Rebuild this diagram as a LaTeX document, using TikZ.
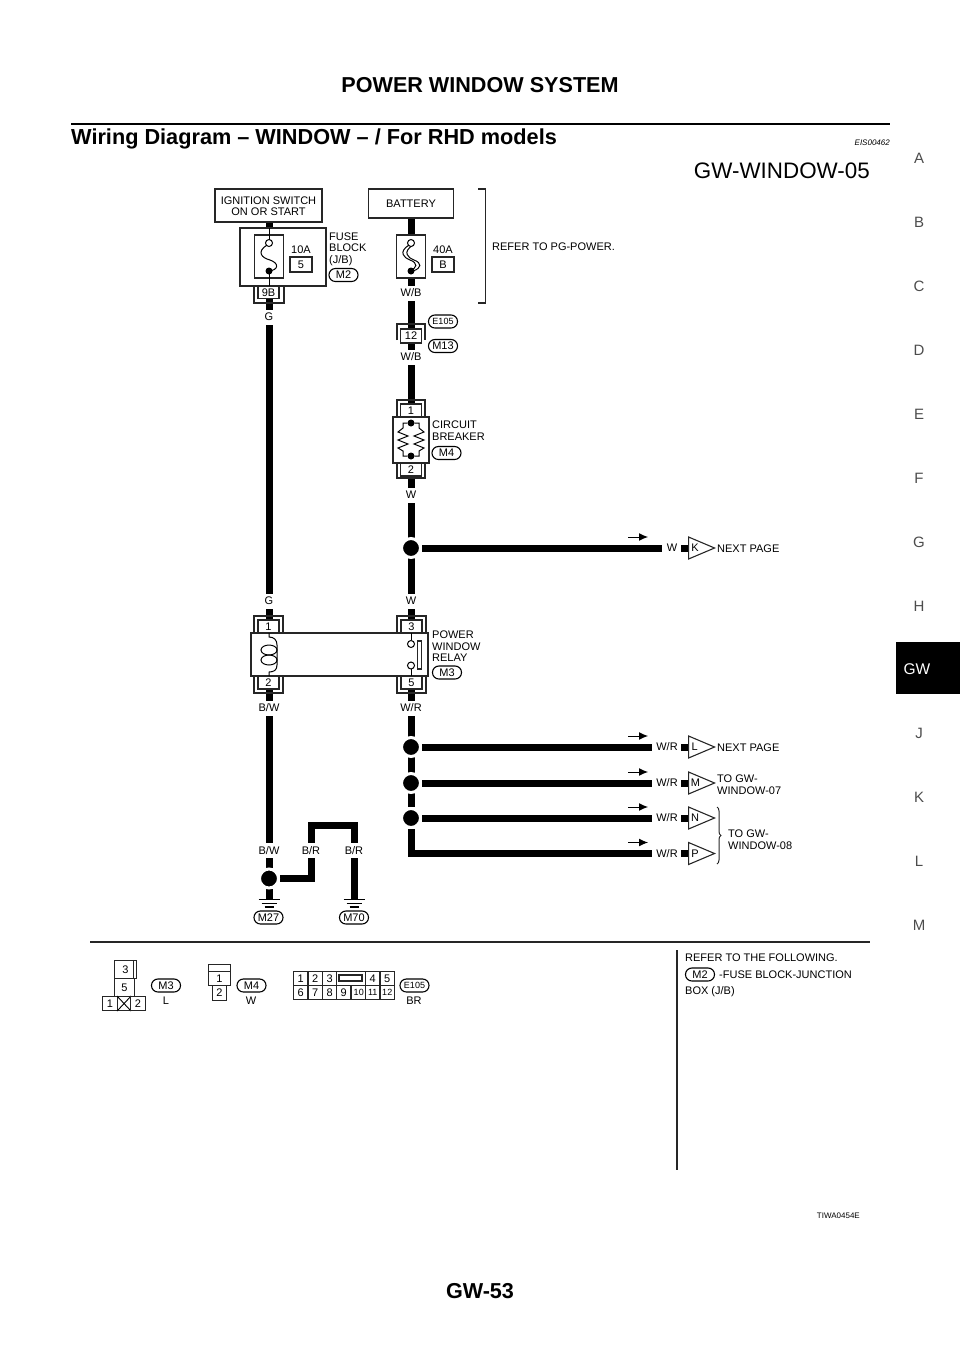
\documentclass[tikz,border=0pt]{standalone}
\usepackage{fontspec}
\setmainfont{Liberation Sans}
\usetikzlibrary{arrows.meta,positioning,backgrounds,shapes.geometric,decorations.pathreplacing}

\begin{document}
\begin{tikzpicture}[
    x=1pt, y=-1pt,
    >={Latex[length=9pt,width=8pt]},
    font=\fontsize{11}{11.5}\selectfont,
    wire/.style={
		line width=7pt,
		draw=black
	},
	thin line/.style={
		line width=1.1pt,
		draw=black!85
	},
	box/.style={
		rectangle,
		draw=black!85,
		line width=1.1pt,
		fill=white,
		inner sep=0pt,
		text centered
	},
	pin/.style={
		box,
		minimum width=21pt,
		minimum height=13pt
	},
	conn/.style={
		rectangle,
		rounded corners=6.4pt,
		draw=black,
		line width=1.1pt,
		fill=white,
		inner sep=0pt,
		minimum width=29pt,
		minimum height=13pt
	},
	wirelabel/.style={
		fill=white,
		inner sep=1pt,
		minimum height=15pt
	},
	desc/.style={
		align=left,
		inner sep=0pt,
		anchor=north west
	},
	dot/.style={
		circle,
		fill=black,
		draw=white,
		line width=3pt,
		inner sep=0pt,
		minimum size=19pt
	},
	smalldot/.style={
		circle,
		fill=black,
		inner sep=0pt,
		minimum size=7pt
	},
	opendot/.style={
		circle,
		draw=black,
		line width=1pt,
		fill=white,
		inner sep=0pt,
		minimum size=7pt
	},
	offpage/.style={
		isosceles triangle,
		isosceles triangle stretches,
		shape border rotate=0,
		draw=black!85,
		line width=1.1pt,
		fill=white,
		inner sep=0pt,
		minimum width=22pt,
		minimum height=26pt,
		anchor=lower side
	},
	cell/.style={
		box,
		minimum width=14.4pt,
		minimum height=14pt,
		anchor=north west
	},
	gnd/.style={
		line width=1.2pt
	}
  ]
    % page frame and heading
  \useasboundingbox (0,0) rectangle (960,1358);
  \node [font=\bfseries\fontsize{21.6}{22}\selectfont] (title) at (480,85) {POWER WINDOW SYSTEM};
  \draw [line width=2.5pt] (71,124) -- (890,124);
  \node [font=\bfseries\fontsize{21.7}{22}\selectfont, anchor=west, inner sep=0pt] (subtitle) at (71,139) {Wiring Diagram -- WINDOW -- / For RHD models};
  \node [font=\itshape\fontsize{8}{8}\selectfont, anchor=east, inner sep=0pt] (code) at (890,143) {EIS00462};
  \node [font=\fontsize{22.4}{23}\selectfont, anchor=east, inner sep=0pt] (sheet) at (870,171) {GW-WINDOW-05};

    % side tabs
  \foreach \lt/\ty in {A/158,B/222,C/286,D/350,E/414,F/478,G/542,H/606,J/733,K/797,L/861,M/925}
    \node [font=\fontsize{15}{15}\selectfont, text=black!70] (tab\lt) at (919,\ty) {\lt};
  \fill [black] (896,642) rectangle (960,694);
  \node [font=\fontsize{15.5}{15}\selectfont, text=white] (tabGW) at (917,669) {GW};

    % top boxes
  \node [box, minimum width=107pt, minimum height=33pt, align=center] (ignition) at (268.5,205.5) {\rule{0pt}{9pt}IGNITION SWITCH\\ON OR START};
  \node [box, minimum width=85pt, minimum height=29pt] (battery) at (411,203.5) {BATTERY};
  \draw [thin line] (478,189) -- (485.5,189) -- (485.5,303) -- (478,303);
  \node [desc] (pgpower) at (492,243) {REFER TO PG-POWER.};

    % fuse block
  \node [box, minimum width=86pt, minimum height=58pt] (fuseblock) at (283,257) {};
  \node [box, minimum width=29pt, minimum height=43pt] (fuse1) at (269,256.5) {};
  \draw [line width=1pt] (269,228) -- (269,240);
  \draw [line width=1pt] (267,245) .. controls (256,252) and (262,258) .. (270,260) .. controls (279,263) and (279,270) .. (269,271);
  \node [opendot] at (269,243) {};
  \node [smalldot] at (269,271) {};
  \draw [line width=1pt] (269,271) -- (269,286);
  \node [inner sep=0pt] (amp1) at (301,250) {10A};
  \node [box, minimum width=22pt, minimum height=15pt] (fuse1no) at (301,264.5) {5};
  \node [desc] (fuselabel) at (329,232.5) {FUSE\\BLOCK\\(J/B)};
  \node [conn] (m2) at (343.5,275) {M2};
  \draw [thin line] (254,286) -- (254,303) -- (284,303) -- (284,286);
  \node [pin, minimum height=12pt] (pin9b) at (268.5,292.5) {9B};
  \node [wirelabel] (wG1) at (269,317) {G};

    % battery fuse
  \node [box, minimum width=29pt, minimum height=43pt] (fuse2) at (411,256.5) {};
  \draw [line width=1pt] (409,245) .. controls (398,252) and (404,258) .. (410,260) .. controls (418,263) and (418,268) .. (409,271);
  \draw [line width=1pt] (413,245) .. controls (402,252) and (408,258) .. (414,260) .. controls (422,263) and (422,268) .. (413,271);
  \node [opendot] at (411,243) {};
  \node [smalldot] at (411,271) {};
  \node [inner sep=0pt] (amp2) at (443,250) {40A};
  \node [box, minimum width=22pt, minimum height=15pt] (fuse2no) at (443,264.5) {B};
  \node [wirelabel] (wWB1) at (411,293) {W/B};

    % joint connector
  \node [conn, font=\fontsize{9}{9}\selectfont] (e105) at (443,321.5) {E105};
  \draw [thin line] (397,340) -- (397,324) -- (425,324) -- (425,340);
  \node [pin, minimum height=14pt] (pin12) at (411,336) {12};
  \node [conn] (m13) at (443,346) {M13};
  \node [wirelabel] (wWB2) at (411,357) {W/B};

    % circuit breaker
  \draw [thin line] (397,417) -- (397,400) -- (425,400) -- (425,417);
  \draw [thin line] (397,463) -- (397,478) -- (425,478) -- (425,463);
  \node [pin] (pin1cb) at (411,410.5) {1};
  \node [box, minimum width=36pt, minimum height=46pt] (breaker) at (411,440) {};
  \node [pin] (pin2cb) at (411,469.5) {2};
  \node [smalldot] (cbtop) at (411,423) {};
  \node [smalldot] (cbbot) at (411,456) {};
  \draw [line width=1pt] (cbtop) -- (403,423) -- (403,428) -- (398,432) -- (408,436) -- (398,440) -- (408,444) -- (398,448) -- (403,451) -- (403,456) -- (cbbot);
  \draw [line width=1pt] (cbtop) -- (419,423) -- (419,428) -- (424,432) -- (414,436) -- (424,440) -- (414,444) -- (424,448) -- (419,451) -- (419,456) -- (cbbot);
  \node [desc] (cblabel) at (432,421) {CIRCUIT\\BREAKER};
  \node [conn] (m4) at (446.5,453) {M4};
  \node [wirelabel] (wW1) at (411,495) {W};

    % W branch
  \node [dot] (j1) at (411,548) {};
  \node [wirelabel] (wW2) at (672,548) {W};
  \node [wirelabel] (wG2) at (269,601) {G};
  \node [wirelabel] (wW3) at (411,601) {W};

    % power window relay
  \draw [thin line] (254,633) -- (254,616) -- (283,616) -- (283,633);
  \draw [thin line] (397,633) -- (397,616) -- (426,616) -- (426,633);
  \draw [thin line] (254,676) -- (254,693) -- (283,693) -- (283,676);
  \draw [thin line] (397,676) -- (397,693) -- (426,693) -- (426,676);
  \node [pin] (r1) at (268.5,626.5) {1};
  \node [pin] (r3) at (411.5,626.5) {3};
  \node [pin] (r2) at (268.5,682.5) {2};
  \node [pin] (r5) at (411.5,682.5) {5};
  \node [box, minimum width=177pt, minimum height=43pt] (relay) at (339.5,654.5) {};
  \draw [line width=1pt] (269,633) -- (269,637) .. controls (274,637) and (277,640) .. (277,645) -- (277,665) .. controls (277,670) and (274,672) .. (269,672) -- (269,676);
  \draw [line width=1pt] (269,650) ellipse [x radius=8, y radius=5];
  \draw [line width=1pt] (269,660) ellipse [x radius=8, y radius=5];
  \draw [line width=1pt] (411,633) -- (411,640);
  \draw [line width=1pt] (411,669) -- (411,676);
  \node [opendot] (c3) at (411,644) {};
  \node [opendot] (c5) at (411,665.5) {};
  \node [box, minimum width=4.5pt, minimum height=28pt] (blade) at (419.5,655) {};
  \node [desc] (relaylabel) at (432,631) {POWER\\WINDOW\\RELAY};
  \node [conn] (m3) at (447,672.5) {M3};
  \node [wirelabel] (wBW1) at (269,708) {B/W};
  \node [wirelabel] (wWR1) at (411,708) {W/R};

    % W/R branches
  \node [dot] (j2) at (411,747) {};
  \node [dot] (j3) at (411,783) {};
  \node [dot] (j4) at (411,818) {};
  \foreach \ly/\lt in {747/L,783/M,818/N,853.5/P}
    \node [wirelabel] (wWR\lt) at (667,\ly) {W/R};

    % off page connectors
  \foreach \lt/\wx/\wy in {K/662/548,L/652/747,M/652/783,N/652/818,P/652/853.5} {
    \coordinate (wire\lt) at (\wx,\wy);
    \coordinate (stub\lt) at (681,\wy);
    \node [offpage] (off\lt) at (688,\wy) {\lt};
    \draw [->, line width=1pt] (628,\wy-11) -- (648,\wy-11);
  }
  \node [desc] (nextk) at (717,545) {NEXT PAGE};
  \node [desc] (nextl) at (717,744) {NEXT PAGE};
  \node [desc] (togw7) at (717,775) {TO GW-\\WINDOW-07};
  \node [desc] (togw8) at (728,830) {TO GW-\\WINDOW-08};
  \draw [line width=1pt, draw=black!85, decorate, decoration={brace, amplitude=4pt}] (717,807) -- (717,864);

    % ground side
  \node [wirelabel] (wBW2) at (269,850.5) {B/W};
  \node [wirelabel] (wBR1) at (311,850.5) {B/R};
  \node [wirelabel] (wBR2) at (354,850.5) {B/R};
  \node [dot] (j5) at (269,878.5) {};
  \coordinate (gndA) at (269,899.5);
  \coordinate (gndB) at (354,899.5);
  \coordinate (hopA) at (311,825.5);
  \foreach \gp in {gndA,gndB} {
    \draw [gnd] ([xshift=-10.5pt]\gp) -- ([xshift=10.5pt]\gp);
    \draw [gnd] ([xshift=-7.5pt,yshift=-3.7pt]\gp) -- ([xshift=7.5pt,yshift=-3.7pt]\gp);
    \draw [gnd] ([xshift=-4.5pt,yshift=-7.5pt]\gp) -- ([xshift=4.5pt,yshift=-7.5pt]\gp);
  }
  \node [conn] (m27) at (268.5,917.5) {M27};
  \node [conn] (m70) at (354,917.5) {M70};

    % wires go under everything
  \begin{scope}[on background layer]
    \draw [wire] (j5 |- ignition.south) -- (gndA);
    \draw [wire] (j4 |- battery.south) -- (j4);
    \draw [wire] (j4) |- (wireP);
    \draw [wire] (j5) -| (hopA) -| (gndB);
    \draw [wire] (j1) -- (wireK);
    \draw [wire] (j2) -- (wireL);
    \draw [wire] (j3) -- (wireM);
    \draw [wire] (j4) -- (wireN);
    \foreach \lt in {K,L,M,N,P}
      \draw [wire] (stub\lt) -- (off\lt.lower side);
  \end{scope}

    % lower panel
  \draw [line width=1.2pt, draw=black!85] (90,942) -- (870,942);
  \draw [line width=1.2pt, draw=black!85] (677,950) -- (677,1170);
  \node [desc] (refer) at (685,954) {REFER TO THE FOLLOWING.};
  \node [conn] (m2b) at (700,974.5) {M2};
  \node [desc] (fbj) at (719,971) {-FUSE BLOCK-JUNCTION};
  \node [desc] (jbox) at (685,986) {BOX (J/B)};

    % connector face M3
  \node [box, minimum width=22pt, minimum height=18pt, anchor=north west] (f3) at (114,960) {3};
  \node [box, minimum width=20pt, minimum height=18pt, anchor=north west] (f5) at (114,978) {5};
  \draw [thin line] (133.5,960) -- (133.5,978);
  \node [box, minimum width=15pt, minimum height=14pt, anchor=north west] (f1) at (102,996) {1};
  \node [box, minimum width=13pt, minimum height=14pt, anchor=north west] (fx) at (117,996) {};
  \draw [line width=0.9pt] (fx.north west) -- (fx.south east) (fx.north east) -- (fx.south west);
  \node [box, minimum width=15pt, minimum height=14pt, anchor=north west] (f2) at (130,996) {2};
  \node [conn] (m3b) at (166,985.5) {M3};
  \node [inner sep=0pt] (m3col) at (166,1001) {L};

    % connector face M4
  \node [box, minimum width=22pt, minimum height=7pt, anchor=north west] (g0) at (208,964) {};
  \node [box, minimum width=22pt, minimum height=14pt, anchor=north west] (g1) at (208,971) {1};
  \node [box, minimum width=14pt, minimum height=15pt, anchor=north west] (g2) at (212,985) {2};
  \node [conn] (m4b) at (251.5,985.5) {M4};
  \node [inner sep=0pt] (m4col) at (251,1001) {W};

    % connector face E105
  \foreach \cx/\cn in {293/1,307.5/2,322/3,365/4,379.5/5}
    \node [cell] (h\cn) at (\cx,971) {\cn};
  \node [box, minimum width=29pt, minimum height=14pt, anchor=north west] (hkey) at (336,971) {};
  \node [box, minimum width=23pt, minimum height=6pt] (hslot) at (350.5,978) {};
  \foreach \cx/\cn in {293/6,307.5/7,322/8,336/9}
    \node [cell] (h\cn) at (\cx,985) {\cn};
  \foreach \cx/\cn in {351/10,365/11,379.5/12}
    \node [cell, font=\fontsize{9}{9}\selectfont] (h\cn) at (\cx,985) {\cn};
  \node [conn, font=\fontsize{9}{9}\selectfont] (e105b) at (414.5,985.5) {E105};
  \node [inner sep=0pt] (e105col) at (414,1001) {BR};

    % footer
  \node [font=\fontsize{8}{8}\selectfont, anchor=east, inner sep=0pt] (figcode) at (860,1216) {TIWA0454E};
  \node [font=\bfseries\fontsize{21.6}{22}\selectfont] (pageno) at (480,1291) {GW-53};
\end{tikzpicture}
\end{document}
